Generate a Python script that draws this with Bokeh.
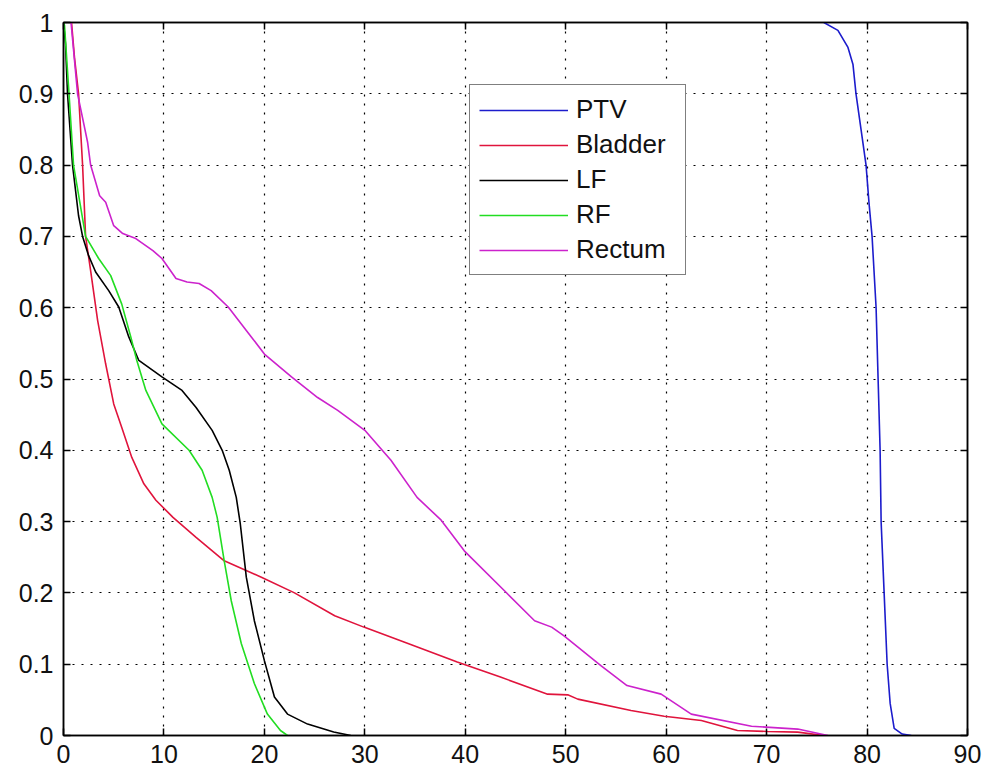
from bokeh.plotting import figure
from bokeh.models import (LinearAxis, FixedTicker, CustomJSTickFormatter, Legend,
                          LegendItem, Range1d)
from bokeh.embed import file_html
from bokeh.resources import INLINE

# ---- data ----
ptv_x = [75.7, 77.1, 78.1, 78.6, 78.9, 79.4, 79.9, 80.2, 80.5, 80.9, 81.1, 81.3,
         81.4, 81.7, 82.0, 82.3, 82.7, 83.5, 84.4]
ptv_y = [1.0, 0.989, 0.965, 0.941, 0.9, 0.85, 0.8, 0.746, 0.7, 0.6, 0.5, 0.4,
         0.3, 0.2, 0.1, 0.045, 0.01, 0.002, 0.0]

bladder_x = [0.8, 1.1, 1.5, 1.9, 2.2, 2.7, 3.4, 4.2, 5.0, 5.8, 6.8, 8.0, 9.2,
             10.9, 13.2, 16.0, 19.7, 23.0, 27.0, 29.9, 34.3, 39.2, 43.5, 48.2,
             50.2, 51.2, 56.5, 59.8, 63.5, 67.1, 70.1, 73.1, 75.7]
bladder_y = [1.0, 0.95, 0.9, 0.8, 0.7, 0.652, 0.582, 0.521, 0.465, 0.432, 0.39,
             0.353, 0.33, 0.306, 0.278, 0.245, 0.222, 0.2, 0.168, 0.152, 0.129,
             0.103, 0.082, 0.058, 0.057, 0.051, 0.035, 0.027, 0.021, 0.007,
             0.0056, 0.0047, 0.0]

lf_x = [0.0, 0.2, 0.4, 0.9, 1.5, 1.9, 2.5, 3.2, 4.5, 5.5, 6.5, 7.5, 9.8, 11.8,
        13.2, 14.8, 15.8, 16.5, 17.2, 17.6, 18.2, 19.0, 20.0, 21.0, 22.3, 24.3,
        26.9, 28.6]
lf_y = [1.0, 0.97, 0.9, 0.8, 0.729, 0.7, 0.673, 0.65, 0.624, 0.601, 0.559,
        0.526, 0.503, 0.484, 0.46, 0.428, 0.4, 0.372, 0.334, 0.297, 0.222,
        0.161, 0.105, 0.054, 0.03, 0.016, 0.005, 0.0]

rf_x = [0.0, 0.1, 0.55, 1.0, 2.2, 3.5, 4.7, 5.8, 6.7, 7.3, 8.2, 9.8, 12.5, 13.8,
        14.8, 15.3, 16.0, 16.7, 17.7, 19.0, 20.3, 21.6, 22.3]
rf_y = [1.0, 0.996, 0.9, 0.8, 0.7, 0.669, 0.645, 0.605, 0.559, 0.526, 0.484,
        0.437, 0.4, 0.372, 0.334, 0.306, 0.245, 0.189, 0.129, 0.073, 0.03,
        0.007, 0.0]

rectum_x = [0.75, 1.4, 2.4, 2.7, 3.6, 4.2, 5.0, 5.9, 7.2, 8.9, 9.8, 11.2, 12.3,
            13.5, 14.7, 16.4, 18.7, 20.0, 22.7, 25.3, 27.3, 30.0, 32.6, 35.2,
            37.6, 39.9, 43.9, 46.9, 48.6, 49.8, 53.5, 56.1, 59.5, 62.5, 68.5,
            73.1, 76.1]
rectum_y = [1.0, 0.9, 0.832, 0.8, 0.757, 0.748, 0.715, 0.704, 0.697, 0.68,
            0.669, 0.641, 0.636, 0.634, 0.624, 0.601, 0.559, 0.535, 0.503,
            0.474, 0.456, 0.428, 0.386, 0.334, 0.302, 0.259, 0.203, 0.161,
            0.152, 0.140, 0.098, 0.070, 0.058, 0.030, 0.013, 0.009, 0.0]

series_names = ["PTV", "Bladder", "LF", "RF", "Rectum"]
series_colors = ["#1c1ccc", "#e0143c", "#000000", "#22dd22", "#cc22cc"]

x_ticks = [0, 10, 20, 30, 40, 50, 60, 70, 80, 90]
y_ticks = [0, 0.1, 0.2, 0.3, 0.4, 0.5, 0.6, 0.7, 0.8, 0.9, 1]

FONT = "Liberation Sans"
FS = "25px"

p = figure(frame_width=904, frame_height=713,
           min_border_left=63, min_border_right=18, min_border_top=22,
           min_border_bottom=39,
           x_range=Range1d(0, 90), y_range=Range1d(0, 1),
           output_backend="svg", toolbar_location=None,
           x_axis_location=None, y_axis_location=None,
           background_fill_color="white", border_fill_color="white")
p.outline_line_color = "black"
p.outline_line_width = 1.5

fmt = CustomJSTickFormatter(code="return String(Math.round(tick*10)/10);")
blank = CustomJSTickFormatter(code="return '';")


def style_axis(ax, ticks, show_labels, standoff=10):
    ax.ticker = FixedTicker(ticks=ticks)
    ax.axis_line_color = "black"
    ax.axis_line_width = 1.5
    ax.major_tick_in = 7
    ax.major_tick_out = 0
    ax.major_tick_line_color = "black"
    ax.major_tick_line_width = 1.5
    ax.minor_tick_line_color = None
    if show_labels:
        ax.formatter = fmt
        ax.major_label_text_font = FONT
        ax.major_label_text_font_size = FS
        ax.major_label_text_color = "#111111"
        ax.major_label_standoff = standoff
    else:
        ax.formatter = blank
        ax.major_label_standoff = 0


xb = LinearAxis()
style_axis(xb, x_ticks, True, 9)
p.add_layout(xb, "below")
yl = LinearAxis()
style_axis(yl, y_ticks, True, 10)
p.add_layout(yl, "left")
xt = LinearAxis()
style_axis(xt, x_ticks, False)
p.add_layout(xt, "above")
yr = LinearAxis()
style_axis(yr, y_ticks, False)
p.add_layout(yr, "right")

p.xgrid.ticker = FixedTicker(ticks=x_ticks)
p.ygrid.ticker = FixedTicker(ticks=y_ticks)
for g in (p.xgrid, p.ygrid):
    g.grid_line_color = "black"
    g.grid_line_dash = "2 7"
    g.grid_line_width = 1.2

data = [(ptv_x, ptv_y), (bladder_x, bladder_y), (lf_x, lf_y), (rf_x, rf_y),
        (rectum_x, rectum_y)]
items = []
for (xs, ys), name, col in zip(data, series_names, series_colors):
    r = p.line(xs, ys, line_color=col, line_width=1.6)
    items.append(LegendItem(label=name, renderers=[r]))

legend = Legend(items=items, location=(406, 460))
legend.label_text_font = FONT
legend.label_text_font_size = "26px"
legend.label_text_color = "#111111"
legend.glyph_width = 89
legend.glyph_height = 28
legend.label_height = 28
legend.label_width = 100
legend.spacing = 4
legend.padding = 9
legend.label_standoff = 8
legend.border_line_color = "black"
legend.border_line_width = 1.5
legend.background_fill_color = "white"
legend.background_fill_alpha = 1.0
legend.margin = 0
p.add_layout(legend, "center")

open("out.html", "w").write(file_html(p, INLINE))
